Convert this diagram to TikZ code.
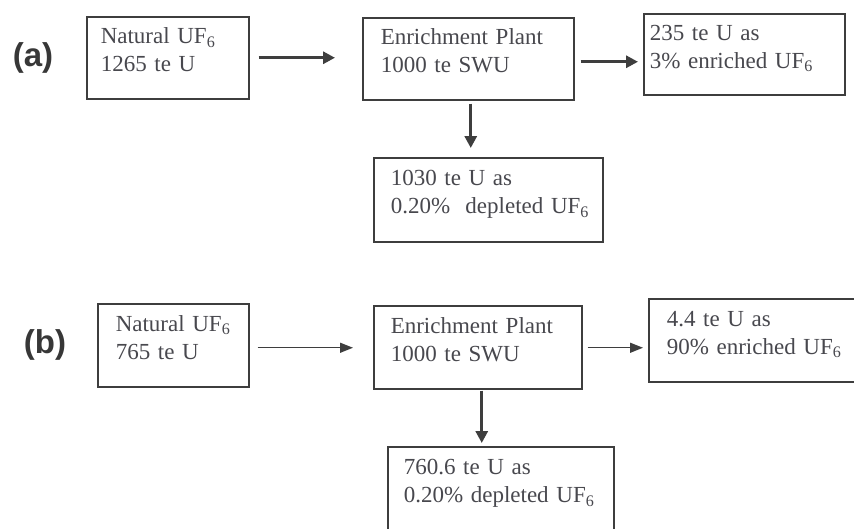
\documentclass[tikz,border=0pt]{standalone}
\usepackage{fontspec}
\setmainfont{Liberation Serif}
\newfontfamily\tagfont{Liberation Sans}
\usepackage{xcolor}
\usepackage{tikz}
\usetikzlibrary{arrows.meta,positioning}
\definecolor{cBox}{RGB}{62,62,62}
\definecolor{cTxt}{RGB}{72,72,78}
\definecolor{cTag}{RGB}{55,55,55}

\begin{document}
\begin{tikzpicture}[x=1pt,y=-1pt,
  flowbox/.style={draw=cBox,line width=1.5pt,text=cTxt,align=left,anchor=north west,
    inner ysep=0pt,font=\fontsize{23}{28}\selectfont,
    execute at begin node={\hyphenpenalty=10000\strut},
    execute at end node={\rule[-20pt]{0pt}{20pt}}},
  tag/.style={text=cTag,font=\tagfont\bfseries\fontsize{33}{33}\selectfont},
  bigflow/.style={draw=cBox,line width=3pt,-{Triangle[length=12pt,width=12pt]}},
  thinflow/.style={draw=cBox,line width=1.4pt,-{Triangle[length=13pt,width=10pt]}}]
  \clip (0,0) rectangle (854,528);
  \fill[white] (0,0) rectangle (854,528);
  % (a) 3% product
  \node[tag] (tagA) at (33,58) {(a)};
  \node[flowbox,minimum width=162pt,minimum height=82pt,inner xsep=14pt,text width=134pt]
    (natA) at (86,16) {Natural~UF\textsubscript{6}\\1265~te~U};
  \node[flowbox,minimum width=211pt,minimum height=82pt,inner xsep=18pt,text width=175pt]
    (plantA) at (362,17) {Enrichment~Plant\\1000~te~SWU};
  \node[flowbox,minimum width=201pt,minimum height=81pt,inner xsep=6pt,text width=189pt]
    (enrA) at (643,13) {235~te~U~as\\3\%~enriched~UF\textsubscript{6}};
  \node[flowbox,minimum width=229pt,minimum height=84pt,inner xsep=17pt,text width=195pt]
    (depA) at (373,157) {1030~te~U~as\\0.20\%~~depleted~UF\textsubscript{6}};
  \draw[bigflow,shorten <=9pt,shorten >=27pt] (natA.east) -- (natA.east -| plantA.west);
  \draw[bigflow,shorten <=6pt,shorten >=5pt]
    ([yshift=-3pt]plantA.east) -- ([yshift=-3pt]plantA.east -| enrA.west);
  \draw[bigflow,shorten <=3pt,shorten >=9pt]
    ([xshift=2.5pt]plantA.south) -- ([xshift=2.5pt]plantA.south |- depA.north);
  % (b) 90% product
  \node[tag] (tagB) at (45,345) {(b)};
  \node[flowbox,minimum width=151pt,minimum height=83pt,inner xsep=18pt,text width=115pt]
    (natB) at (97,303) {Natural~UF\textsubscript{6}\\765~te~U};
  \node[flowbox,minimum width=208pt,minimum height=83pt,inner xsep=17pt,text width=174pt]
    (plantB) at (373,305) {Enrichment~Plant\\1000~te~SWU};
  \node[flowbox,minimum width=212pt,minimum height=83pt,inner xsep=18pt,text width=176pt]
    (enrB) at (648,298) {4.4~te~U~as\\90\%~enriched~UF\textsubscript{6}};
  \node[flowbox,minimum width=226pt,minimum height=84pt,inner xsep=16pt,text width=194pt]
    (depB) at (387,446) {760.6~te~U~as\\0.20\%~depleted~UF\textsubscript{6}};
  \draw[thinflow,shorten <=8pt,shorten >=20pt]
    ([yshift=-2.5pt]natB.east) -- ([yshift=-2.5pt]natB.east -| plantB.west);
  \draw[thinflow,shorten <=5pt,shorten >=5pt]
    ([yshift=-0.5pt]plantB.east) -- ([yshift=-0.5pt]plantB.east -| enrB.west);
  \draw[bigflow,shorten <=1pt,shorten >=3pt]
    ([xshift=4pt]plantB.south) -- ([xshift=4pt]plantB.south |- depB.north);
\end{tikzpicture}
\end{document}
